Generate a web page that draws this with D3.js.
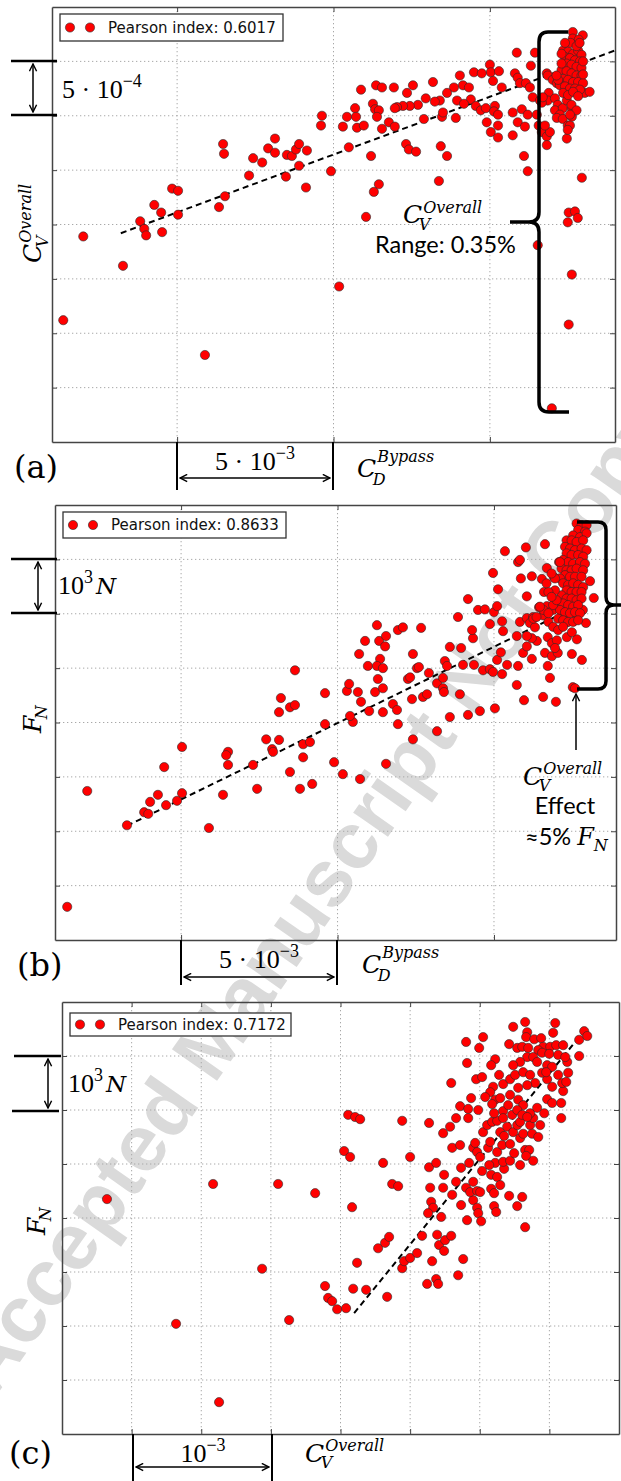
<!DOCTYPE html>
<html>
<head>
<meta charset="utf-8">
<script src="https://cdn.jsdelivr.net/npm/d3@7"></script>
<style>
body { margin: 0; background: #fff; }
svg { display: block; }
</style>
</head>
<body>
<script>
// ---- data ----
// (a) x: C_D^Bypass [1e-3], y: C_V^Overall [1e-4]
const pointsA = [
  [6.47,27.4],[6.50,26.5],[8.13,27.9],[7.91,27.0],[8.13,26.6],[7.43,26.1],[7.72,25.7],[8.51,26.4],[8.67,26.3],[8.80,26.9],
  [8.90,27.4],[9.15,26.8],[8.90,25.4],[8.48,24.4],[7.30,24.5],[9.12,23.4],[4.84,23.3],[5.03,23.1],[4.27,21.8],[4.49,21.1],
  [5.03,20.9],[6.53,22.6],[6.34,21.6],[3.82,20.3],[3.95,19.6],[4.01,19.0],[4.52,19.3],[2.00,18.9],[3.27,16.2],[1.36,11.2],
  [5.89,8.0],[10.18,14.3],
  [17.65,37.7],[17.97,37.4],[17.65,37.1],[17.84,37.0],[15.86,35.8],[16.44,35.8],[16.31,34.6],[15.00,34.7],[15.03,34.0],
  [15.29,34.1],[14.49,34.0],[14.74,33.9],[14.04,33.7],[15.80,33.9],[15.89,33.5],[16.82,33.9],[13.18,33.1],[14.14,32.8],
  [13.85,32.6],[14.33,32.6],[13.63,32.1],[12.35,32.1],[12.54,32.8],[11.93,32.6],[11.36,32.8],[11.55,32.6],[10.88,32.4],
  [15.10,33.2],[15.38,32.6],[15.96,33.0],[16.15,33.0],[16.28,32.6],[16.37,31.7],[16.60,31.4],[14.39,31.5],[13.95,31.4],
  [13.40,31.4],[13.24,31.3],[12.95,31.6],[12.70,31.0],[12.44,30.9],[12.22,30.9],[12.03,30.8],[11.96,30.7],[11.26,31.1],
  [11.33,30.6],[11.45,30.5],[10.69,30.7],[10.72,29.9],[10.43,29.9],[10.30,29.0],[10.75,28.9],[10.97,29.1],[11.39,29.9],
  [11.55,28.8],[11.77,29.4],[11.96,29.0],[12.89,29.7],[13.47,29.9],[13.50,30.3],[13.91,29.8],[14.17,31.1],[14.55,30.9],
  [14.71,30.5],[14.87,30.7],[15.16,30.9],[15.13,30.4],[15.26,30.1],[14.90,29.4],[15.03,28.5],[15.26,29.1],[15.26,28.0],
  [15.73,30.3],[16.02,30.6],[16.21,30.1],[15.89,29.4],[16.12,29.0],[15.73,28.2],[16.50,30.1],[16.56,29.1],[16.66,28.5],
  [16.82,28.1],[16.92,28.5],[16.82,27.3],[17.46,27.9],[9.63,30.0],[9.60,29.1],[10.49,27.1],[11.20,26.3],[12.32,27.4],
  [12.41,26.9],[12.64,26.7],[13.43,27.2],[13.63,26.3],[16.09,26.3],[16.21,24.9],[9.92,24.9],[11.45,23.7],[11.29,23.0],
  [13.37,24.0],[11.04,20.7],[17.94,24.3],[17.52,21.1],[17.72,21.2],[17.81,20.6],[17.49,20.2],[16.53,18.1],[17.62,15.4],
  [17.52,10.8],[16.98,3.1],
  [16.85,33.7],[17.01,33.3],[17.14,33.0],[16.88,32.1],[16.85,31.4],[17.08,31.6],[17.17,31.0],[17.08,30.5],[17.33,30.7],
  [17.46,31.4],[17.62,30.7],[17.24,30.1],[17.14,29.8],[17.33,29.7],[17.49,29.1],[17.62,29.9],[17.56,29.1],[16.76,29.1],
  [16.66,31.2],[16.69,31.7],[17.49,28.7],[18.03,32.1],[18.19,32.2],[17.81,33.0],
  [17.34,36.0],[17.50,35.9],[17.66,35.7],[17.82,36.0],[17.93,35.6],[17.40,35.4],[17.56,35.3],[17.72,35.1],[17.88,35.0],
  [17.45,34.8],[17.61,34.7],[17.77,34.5],[17.93,34.4],[17.29,34.2],[17.45,34.1],[17.61,33.9],[17.77,33.7],[17.93,33.7],
  [17.34,33.4],[17.50,33.3],[17.66,33.1],[17.82,33.1],[17.98,33.0],[17.24,32.8],[17.40,32.7],[17.56,32.5],[17.72,32.5],
  [17.88,32.4],[17.34,32.1],[17.50,31.9],[17.66,32.2],[17.82,31.8],[17.18,33.3],[17.13,33.7],[17.29,34.8],[17.98,35.0],
  [17.58,36.7],[17.77,36.4],[17.40,36.7],[17.87,36.7],[17.29,35.7],[17.98,33.8],[17.61,31.0],[17.77,30.5],[17.56,30.1]
];
const trendA = [[3.2,19.2],[19.0,36.0]];

// (b) x: C_D^Bypass [1e-3], y: F_N [1e3 N]
const pointsB = [
  [8.64,4.96],[8.19,4.45],[8.48,4.28],[8.64,4.32],[8.13,4.19],[5.03,3.55],[4.46,3.18],[2.00,2.74],[3.27,2.11],[3.82,2.35],
  [3.95,2.32],[4.01,2.54],[4.26,2.67],[4.52,2.48],[4.87,2.56],[5.03,2.70],[5.89,2.06],[6.34,2.67],[6.50,3.46],[6.44,3.40],
  [6.50,3.22],[7.30,3.22],[7.43,2.78],[7.72,3.69],[7.91,3.51],[7.94,3.46],[8.13,3.68],[8.48,3.09],[8.80,2.78],[9.19,2.87],
  [8.90,3.36],[8.90,3.60],[9.12,3.64],[1.36,0.61],[9.60,3.97],[10.49,4.01],[9.89,3.27],[10.17,3.05],[10.72,2.96],[11.55,3.24],
  [11.93,3.97],[12.41,3.69],[13.18,3.84],[9.60,4.54],[10.30,4.58],[10.37,4.71],[10.65,4.56],[10.75,4.38],[10.40,4.12],
  [11.01,4.21],[11.45,4.19],[11.77,4.34],[11.90,4.23],[11.20,4.56],[11.45,4.63],[11.29,4.80],[10.97,5.04],[11.36,5.17],
  [11.26,5.04],[11.45,5.00],[10.69,5.26],[10.88,5.50],[11.33,5.50],[11.55,5.59],[11.52,5.40],[11.26,5.79],[11.93,5.70],
  [12.09,5.75],[12.67,5.74],[12.41,5.26],[12.54,5.00],[12.60,5.02],[12.92,4.91],[12.25,4.80],[12.32,4.83],[12.38,4.43],
  [12.73,4.47],[12.86,4.52],[13.18,4.72],[13.37,4.82],[13.37,4.63],[13.40,4.56],[13.59,4.10],[13.91,4.52],[14.17,4.14],
  [14.55,4.21],[15.03,4.26],[13.43,5.13],[13.50,5.04],[13.59,5.39],[13.95,5.37],[14.01,5.06],[14.36,5.06],[14.65,4.96],
  [14.87,4.98],[14.97,4.93],[15.26,4.89],[15.10,5.15],[15.22,5.29],[15.42,5.06],[15.77,5.04],[15.73,4.69],[15.96,4.41],
  [16.57,4.47],[16.98,4.38],[16.79,4.82],[16.72,5.04],[15.93,5.28],[16.21,5.17],[16.37,5.50],[16.63,5.28],[16.85,5.22],
  [17.04,5.28],[17.49,5.26],[17.81,5.15],[16.21,5.55],[16.05,5.40],[16.05,5.59],[15.73,5.59],[15.83,5.85],[16.05,5.92],
  [16.15,5.83],[16.25,5.94],[16.31,5.75],[16.72,5.57],[16.85,5.46],[17.01,5.51],[16.95,5.37],[17.33,5.57],[17.65,5.53],
  [17.49,5.66],[17.94,5.83],[14.33,5.55],[14.30,5.70],[14.87,5.81],[15.26,5.86],[15.29,5.68],[13.85,5.94],[14.49,6.07],
  [14.71,6.08],[15.00,6.03],[15.10,6.14],[14.17,6.27],[15.13,6.45],[14.97,6.75],[15.35,7.15],[16.02,7.22],[16.63,7.28],
  [15.77,6.95],[15.83,6.99],[15.86,6.65],[16.21,6.69],[16.53,6.64],[16.69,6.84],[16.60,6.40],[16.05,6.32],[16.92,6.67],
  [17.08,6.95],[18.07,6.60],[18.19,6.29],[16.44,6.12],[16.69,6.14],[16.57,5.97],[16.88,6.07],[17.01,6.21],[17.17,6.25],
  [17.20,5.94],[17.33,5.85],[17.65,5.94],[17.84,6.07],[17.52,4.65],[17.59,4.63],
  [17.64,7.66],[17.80,7.63],[17.96,7.63],[17.69,7.54],[17.91,7.51],[17.53,7.44],[17.75,7.41],[17.96,7.48],[17.32,7.35],
  [17.48,7.35],[17.64,7.32],[17.85,7.35],[17.27,7.23],[17.43,7.20],[17.59,7.17],[17.80,7.20],[17.96,7.17],[17.32,7.11],
  [17.48,7.08],[17.69,7.08],[17.85,7.05],[17.21,6.99],[17.37,6.95],[17.53,6.92],[17.75,6.95],[17.91,6.92],[17.16,6.83],
  [17.32,6.80],[17.48,6.80],[17.64,6.83],[17.85,6.80],[17.27,6.71],[17.43,6.68],[17.59,6.68],[17.80,6.68],[17.11,6.65],
  [17.21,6.56],[17.37,6.53],[17.53,6.56],[17.69,6.53],[17.85,6.49],[17.32,6.43],[17.48,6.40],[17.64,6.40],[17.80,6.40],
  [17.16,6.34],[17.32,6.28],[17.48,6.28],[17.64,6.25],[17.80,6.28],[17.21,6.19],[17.37,6.16],[17.53,6.13],[17.69,6.16],
  [17.11,6.07],[17.27,6.03],[17.43,6.01],[17.59,6.03],[17.75,6.01],[17.05,5.91],[17.21,5.88],[17.37,5.85],[17.53,5.85],
  [17.69,5.88],[16.89,6.16],[17.00,6.25],[16.95,6.43],[16.74,6.40],[16.84,6.31],[16.68,6.56],[16.95,6.65],[17.11,6.95],
  [16.84,6.74],[16.74,5.85],[16.89,5.76],[17.05,5.70],[17.21,5.76],[16.58,6.07],[16.74,6.01],[16.47,6.13],[16.26,5.91],
  [16.36,5.94]
];
const trendB = [[3.27,2.10],[17.84,6.19]];

// (c) x: C_V^Overall [1e-4], y: F_N [1e3 N]
const pointsC = [
  [3.23,4.35],[10.85,4.63],[15.52,4.63],[18.18,4.46],[14.37,3.06],[8.19,2.04],[16.31,2.11],[11.28,0.59],[20.83,4.20],
  [20.26,5.24],[20.69,5.13],[20.55,5.91],[21.05,5.87],[21.41,5.83],[24.43,5.80],[23.06,5.02],[25.00,5.13],[23.71,4.63],
  [24.14,4.59],[26.36,5.76],[26.36,4.94],[26.87,5.02],[27.44,4.80],[27.37,5.57],[27.95,6.50],[29.02,7.26],[29.09,6.87],
  [29.96,7.15],[30.24,7.35],[29.74,6.57],[30.17,6.61],[29.38,6.22],[28.59,6.07],[29.17,6.02],[29.17,5.85],[28.30,5.85],
  [27.87,5.69],[28.02,5.30],[28.59,5.35],[29.89,6.00],[29.53,5.30],[29.24,5.02],[28.66,4.93],[28.30,4.67],[27.37,4.56],
  [26.44,4.56],[26.51,4.30],[26.65,4.19],[26.29,4.09],[27.23,4.02],[28.02,4.43],[28.66,4.24],[29.02,4.56],[29.09,3.96],
  [29.53,4.33],[29.81,4.19],[29.89,4.09],[30.10,3.94],[29.53,4.67],[29.31,4.48],[29.81,4.50],[30.03,4.48],[30.82,4.54],
  [31.03,4.46],[31.03,4.22],[31.18,4.11],[32.11,4.41],[33.05,4.39],[32.69,4.22],[33.26,3.83],[30.82,4.80],[31.25,4.76],
  [31.47,4.61],[31.75,4.91],[31.11,5.02],[30.68,4.98],[30.17,4.87],[29.67,5.39],[29.81,5.22],[30.03,5.13],[30.60,5.30],
  [31.25,5.22],[31.68,5.04],[32.18,5.06],[32.90,4.98],[32.47,5.20],[33.26,5.26],[33.55,5.26],[33.33,5.15],[33.84,5.06],
  [31.61,5.35],[32.18,5.37],[32.90,5.48],[30.75,5.41],[30.24,5.59],[30.53,5.72],[30.89,5.78],[31.25,5.80],[31.47,5.59],
  [31.75,5.52],[31.97,5.69],[32.40,5.59],[32.69,5.72],[32.90,5.78],[33.12,5.56],[33.62,5.72],[33.76,5.56],[34.20,5.50],
  [34.34,5.72],[33.84,5.85],[33.62,5.94],[34.12,6.04],[34.63,5.94],[34.84,6.20],[35.20,6.13],[35.85,6.13],[35.85,5.85],
  [35.99,6.35],[35.92,6.50],[36.21,6.52],[36.35,6.69],[35.63,6.65],[35.20,6.43],[34.84,6.57],[36.28,6.89],[37.14,7.00],
  [37.14,7.30],[37.50,7.46],[37.72,7.37],[35.42,7.61],[35.27,7.43],[33.26,7.63],[33.41,7.44],[32.40,7.54],[33.33,7.35],
  [33.91,7.31],[34.41,7.33],[34.55,7.17],[35.06,7.17],[35.49,7.20],[35.99,7.20],[32.11,7.22],[32.69,7.15],[33.05,7.17],
  [33.48,7.15],[34.20,7.11],[34.48,7.06],[34.99,7.04],[35.63,7.02],[36.14,6.98],[33.41,6.98],[33.84,6.98],[32.90,6.89],
  [32.40,6.83],[34.12,6.89],[34.84,6.83],[35.20,6.80],[31.11,6.94],[30.82,6.83],[31.39,6.65],[31.68,6.48],[32.18,6.57],
  [32.54,6.65],[33.12,6.70],[33.62,6.65],[33.98,6.50],[34.48,6.69],[34.77,6.70],[32.76,6.41],[33.41,6.46],[32.18,6.28],
  [32.76,6.19],[33.12,6.09],[30.96,6.43],[30.75,6.33],[30.39,6.24],[31.11,6.19],[31.47,6.22],[30.89,6.11],[31.03,5.94],
  [31.68,5.98],[32.04,6.09],[32.33,5.91],[32.69,6.00],[33.05,5.91],[33.41,5.87],[31.68,5.85],
  [18.89,2.74],[19.11,2.52],[19.40,2.46],[19.76,2.31],[20.40,2.33],[20.91,2.69],[21.84,2.67],[21.19,3.17],[22.70,3.44],
  [23.20,3.54],[23.49,3.65],[23.35,2.54],[24.43,3.07],[24.57,3.20],[25.00,3.26],[25.50,3.35],[25.86,3.67],[26.58,3.20],
  [26.22,2.78],[26.87,2.87],[27.01,2.78],[28.45,2.94],[28.81,3.24],[26.94,3.69],[27.08,3.50],[27.51,3.59],[27.95,3.67],
  [27.44,3.39]
];
const trendC = [[20.98,2.24],[37.07,7.33]];

const pearson = ["0.6017", "0.8633", "0.7172"];
const panelNames = ["(a)", "(b)", "(c)"];

// ---- setup ----
const W = 621, H = 1481;
const SANS = "'DejaVu Sans', sans-serif";
const SERIF = "'Liberation Serif', serif";
const MATH = "'DejaVu Serif', serif";
const CALI = "Lato, 'Open Sans', sans-serif";

const svg = d3.select("body").append("svg")
    .attr("width", W).attr("height", H);

const defs = svg.append("defs");
defs.append("marker")
    .attr("id", "ah")
    .attr("viewBox", "0 0 10 10")
    .attr("refX", 9).attr("refY", 5)
    .attr("markerUnits", "userSpaceOnUse")
    .attr("markerWidth", 9).attr("markerHeight", 9)
    .attr("orient", "auto-start-reverse")
  .append("path")
    .attr("d", "M1,1 L9,5 L1,9")
    .attr("fill", "none")
    .attr("stroke", "#000")
    .attr("stroke-width", 1.6);

// watermark, behind everything
svg.append("text")
    .attr("transform", "translate(380,800) rotate(-55)")
    .attr("text-anchor", "middle")
    .attr("dominant-baseline", "central")
    .attr("font-family", "'Liberation Sans', sans-serif")
    .attr("font-weight", "bold")
    .attr("font-size", 80)
    .attr("fill", "#dadada")
    .text("Accepted Manuscript Not Copyedited");

// draw one scatter panel
function panel(opt) {
    const g = svg.append("g");
    const x = d3.scaleLinear().domain(opt.xDomain).range([opt.left, opt.right]);
    const y = d3.scaleLinear().domain(opt.yDomain).range([opt.bottom, opt.top]);

    // dotted grid
    g.selectAll(".gx").data(opt.xGrid).join("line")
        .attr("x1", d => x(d)).attr("x2", d => x(d))
        .attr("y1", opt.top).attr("y2", opt.bottom);
    g.selectAll(".gy").data(opt.yGrid).join("line")
        .attr("y1", d => y(d)).attr("y2", d => y(d))
        .attr("x1", opt.left).attr("x2", opt.right);
    g.selectAll("line")
        .attr("stroke", "#a8a8a8")
        .attr("stroke-width", 1)
        .attr("stroke-dasharray", "1.3,2.7");

    // frame + inward ticks, no labels
    const axes = [
        [d3.axisBottom(x).tickValues(opt.xGrid), `translate(0,${opt.bottom})`],
        [d3.axisTop(x).tickValues(opt.xGrid), `translate(0,${opt.top})`],
        [d3.axisLeft(y).tickValues(opt.yGrid), `translate(${opt.left},0)`],
        [d3.axisRight(y).tickValues(opt.yGrid), `translate(${opt.right},0)`]
    ];
    axes.forEach(([ax, tr]) => {
        const a = g.append("g").attr("transform", tr)
            .call(ax.tickSize(-5).tickSizeOuter(0).tickFormat(""));
        a.select(".domain").attr("stroke", "#444").attr("stroke-width", 1.5);
        a.selectAll(".tick line").attr("stroke", "#444").attr("stroke-width", 1);
    });

    // trend line
    g.append("path")
        .datum(opt.trend)
        .attr("d", d3.line().x(d => x(d[0])).y(d => y(d[1])))
        .attr("fill", "none")
        .attr("stroke", "#000")
        .attr("stroke-width", 2)
        .attr("stroke-dasharray", "6,4");

    // points
    g.append("g").selectAll("circle").data(opt.points).join("circle")
        .attr("cx", d => x(d[0])).attr("cy", d => y(d[1]))
        .attr("r", 4.6)
        .attr("fill", "#f00")
        .attr("stroke", "#2a2a2a")
        .attr("stroke-width", 0.6);

    // legend
    const L = opt.legend;
    const lg = g.append("g").attr("transform", `translate(${L.x},${L.y})`);
    lg.append("rect")
        .attr("width", L.w).attr("height", L.h)
        .attr("fill", "#fff").attr("stroke", "#333").attr("stroke-width", 1.3);
    lg.selectAll("circle").data([10, 30]).join("circle")
        .attr("cx", d => d).attr("cy", L.h / 2)
        .attr("r", 4.6).attr("fill", "#f00")
        .attr("stroke", "#2a2a2a").attr("stroke-width", 0.6);
    lg.append("text")
        .attr("x", 48).attr("y", L.h / 2 + 5.3)
        .attr("font-family", SANS).attr("font-size", 15).attr("fill", "#111")
        .text("Pearson index: " + opt.pearson);

    return {g, x, y};
}

// C with super / subscript, one text element (Cambria-like math label)
function mathLabel(o) {
    const g = svg.append("g")
        .attr("transform", `translate(${o.x},${o.y}) rotate(${o.rotate || 0})`);
    const t = g.append("text")
        .attr("font-family", MATH).attr("font-style", "italic");
    const b = t.append("tspan").attr("x", 0).attr("y", 0)
        .attr("font-size", o.size).text(o.base);
    const w = b.node().getComputedTextLength();
    const small = o.small || o.size * 0.66;
    if (o.sup) t.append("tspan")
        .attr("x", w + 1).attr("y", -o.supDy)
        .attr("font-size", small).text(o.sup);
    if (o.sub) t.append("tspan")
        .attr("x", w - o.size * 0.14).attr("y", o.subDy)
        .attr("font-size", small).text(o.sub);
    return g;
}

// number with superscript exponent, e.g. 5 · 10^-4
function powerText(x, y, base, exp, anchor, unit) {
    const t = svg.append("text")
        .attr("x", x).attr("y", y)
        .attr("text-anchor", anchor || "start")
        .attr("font-family", SERIF).attr("font-size", 26);
    t.append("tspan").text(base);
    t.append("tspan").attr("dy", -11).attr("font-size", 18).text(exp);
    if (unit) t.append("tspan").attr("dy", 11).attr("dx", 3)
        .attr("font-family", MATH).attr("font-style", "italic").attr("font-size", 23).text(unit);
    return t;
}

function line(x1, y1, x2, y2, w, arrows) {
    const l = svg.append("line")
        .attr("x1", x1).attr("y1", y1).attr("x2", x2).attr("y2", y2)
        .attr("stroke", "#000").attr("stroke-width", w);
    if (arrows) {
        l.attr("marker-end", "url(#ah)");
        if (arrows === 2) l.attr("marker-start", "url(#ah)");
    }
    return l;
}

function panelLabel(x, y, s) {
    svg.append("text").attr("x", x).attr("y", y)
        .attr("font-family", MATH).attr("font-size", 32).text(s);
}

// ---- panel (a) ----
panel({
    left: 52, right: 615, top: 7, bottom: 442,
    xDomain: [1, 19], yDomain: [0, 40],
    xGrid: [5, 10, 15], yGrid: [5, 10, 15, 20, 25, 30, 35],
    points: pointsA, trend: trendA, pearson: pearson[0],
    legend: {x: 60, y: 14, w: 223, h: 27}
});
line(11, 61, 57, 61, 2.5); line(11, 115, 57, 115, 2.5);
line(33, 64, 33, 112, 1.5, 2);
powerText(62, 98, "5 \u00b7 10", "\u22124");
line(177, 442, 177, 490, 2); line(333, 442, 333, 490, 2);
line(180, 478, 330, 478, 1.5, 2);
powerText(255, 470, "5 \u00b7 10", "\u22123", "middle");
mathLabel({x: 357, y: 477, base: "C", sup: "Bypass", sub: "D", size: 25, small: 16, supDy: 15, subDy: 8});
mathLabel({x: 41, y: 263, base: "C", sup: "Overall", sub: "V", size: 25, small: 16, supDy: 10, subDy: 7, rotate: -90});
panelLabel(14, 478, panelNames[0]);

// brace (a)
svg.append("path")
    .attr("d", "M568,32 L548,32 Q539,32 539,42 L539,212 Q539,222 529,222 L510,222 " +
               "M529,222 Q539,222 539,232 L539,402 Q539,412 549,412 L569,412")
    .attr("fill", "none").attr("stroke", "#000").attr("stroke-width", 3.5);
mathLabel({x: 403, y: 223, base: "C", sup: "Overall", sub: "V", size: 25, small: 16, supDy: 10, subDy: 7});
svg.append("text").attr("x", 375).attr("y", 253)
    .attr("font-family", CALI).attr("font-size", 23.5).text("Range: 0.35%");

// ---- panel (b) ----
panel({
    left: 55, right: 616, top: 505, bottom: 940,
    xDomain: [0.97, 18.9], yDomain: [0, 8],
    xGrid: [5, 10, 15], yGrid: [1, 2, 3, 4, 5, 6, 7],
    points: pointsB, trend: trendB, pearson: pearson[1],
    legend: {x: 63, y: 512, w: 223, h: 26}
});
line(11, 559, 57, 559, 2.5); line(11, 613, 57, 613, 2.5);
line(38, 562, 38, 610, 1.5, 2);
powerText(58, 594, "10", "3", "start", "N");
line(181, 940, 181, 985, 2); line(337, 940, 337, 985, 2);
line(184, 977, 334, 977, 1.5, 2);
powerText(259, 968, "5 \u00b7 10", "\u22123", "middle");
mathLabel({x: 362, y: 973, base: "C", sup: "Bypass", sub: "D", size: 25, small: 16, supDy: 15, subDy: 8});
mathLabel({x: 41, y: 733, base: "F", sub: "N", size: 25, small: 16, subDy: 6, rotate: -90});
panelLabel(17, 976, panelNames[1]);

// brace (b)
svg.append("path")
    .attr("d", "M577,522 L598,522 Q606,522 606,530 L606,597 Q606,605 614,605 L622,605 " +
               "M614,605 Q606,605 606,613 L606,681 Q606,689 598,689 L577,689")
    .attr("fill", "none").attr("stroke", "#000").attr("stroke-width", 3.5);
line(576, 750, 576, 694, 1.5, 1);
mathLabel({x: 523, y: 785, base: "C", sup: "Overall", sub: "V", size: 25, small: 16, supDy: 11, subDy: 6});
svg.append("text").attr("x", 565).attr("y", 814).attr("text-anchor", "middle")
    .attr("font-family", CALI).attr("font-size", 23.5).text("Effect");
const eff = svg.append("text").attr("x", 525).attr("y", 845)
    .attr("font-family", CALI).attr("font-size", 23.5);
eff.append("tspan").text("\u22485% ");
eff.append("tspan").attr("font-family", MATH).attr("font-style", "italic").attr("font-size", 24).text("F");
eff.append("tspan").attr("font-family", MATH).attr("font-style", "italic").attr("font-size", 16).attr("dy", 6).text("N");

// ---- panel (c) ----
panel({
    left: 62, right: 619, top: 1002, bottom: 1434,
    xDomain: [0, 40], yDomain: [0, 8],
    xGrid: [5, 10, 15, 20, 25, 30, 35], yGrid: [1, 2, 3, 4, 5, 6, 7],
    points: pointsC, trend: trendC, pearson: pearson[2],
    legend: {x: 70, y: 1013, w: 221, h: 23}
});
line(14, 1056, 61, 1056, 2.5); line(12, 1111, 59, 1111, 2.5);
line(48, 1059, 48, 1108, 1.5, 2);
powerText(68, 1092, "10", "3", "start", "N");
line(133, 1434, 133, 1481, 2); line(272, 1434, 272, 1481, 2);
line(136, 1467, 269, 1467, 1.5, 2);
powerText(203, 1462, "10", "\u22123", "middle");
mathLabel({x: 305, y: 1462, base: "C", sup: "Overall", sub: "V", size: 25, small: 16, supDy: 11, subDy: 6});
mathLabel({x: 45, y: 1235, base: "F", sub: "N", size: 25, small: 16, subDy: 6, rotate: -90});
panelLabel(9, 1464, panelNames[2]);
</script>
</body>
</html>
